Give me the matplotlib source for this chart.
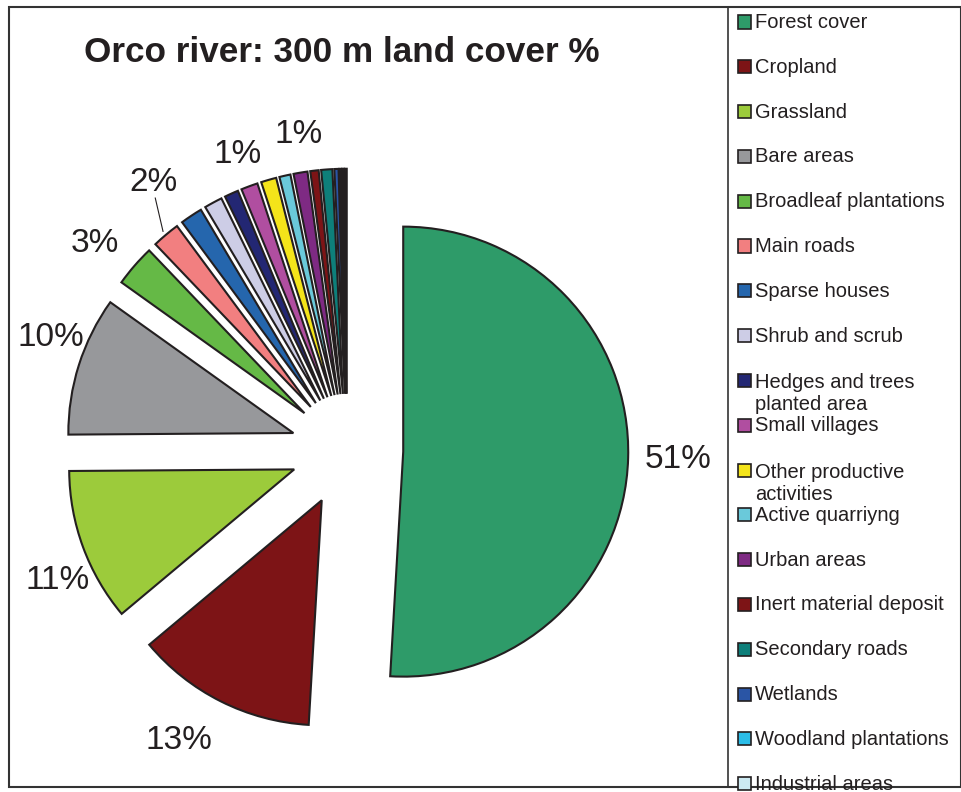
import numpy as np
import matplotlib.pyplot as plt
from matplotlib.patches import Rectangle

plt.rcParams['font.family'] = ['Liberation Sans', 'DejaVu Sans']

categories = [
    'Forest cover', 'Cropland', 'Grassland', 'Bare areas',
    'Broadleaf plantations', 'Main roads', 'Sparse houses', 'Shrub and scrub',
    'Hedges and trees\nplanted area', 'Small villages',
    'Other productive\nactivities', 'Active quarriyng', 'Urban areas',
    'Inert material deposit', 'Secondary roads', 'Wetlands',
    'Woodland plantations', 'Industrial areas', 'Other',
]
shares = [51, 13, 11, 10, 3, 2, 1.6, 1.3, 1.0, 1.2, 1.1, 0.8, 1.0,
          0.6, 0.8, 0.3, 0.15, 0.15, 0.15]
colors = [
    '#2e9b69', '#7d1416', '#9ccb3b', '#97989b', '#65b946', '#f27f80',
    '#2566ad', '#cdcde6', '#232773', '#b04ea0', '#f4e41a', '#6ac9da',
    '#7e2a83', '#7d1416', '#0e7f7a', '#2a55a5', '#2bbde8', '#cce9f1',
    '#c8d8b8',
]
# slices that carry a percentage label: (distance, angle shift in degrees)
label_pos = {0: (1.22, 0), 1: (1.24, -4), 2: (1.16, 5), 3: (1.16, -4),
             4: (1.2, 2), 5: (1.22, -5), 9: (1.15, 0), 12: (1.17, -1)}

W, H = 962, 792
cx, cy, R = 347, 450, 225  # pie centre and radius in pixels (from top)
ink = '#231f20'

fig = plt.figure(figsize=(W / 100, H / 100), dpi=100)
ax = fig.add_axes([0, 0, 1, 1])
wedges, _ = ax.pie(shares, colors=colors, startangle=90, counterclock=False,
                   explode=[0.25] * len(shares), radius=1,
                   wedgeprops=dict(edgecolor=ink, linewidth=1.5))
ax.set_xlim(-cx / R, (W - cx) / R)
ax.set_ylim(-(H - cy) / R, cy / R)
ax.axis('off')

for i, (d, shift) in label_pos.items():
    w = wedges[i]
    tm = np.deg2rad((w.theta1 + w.theta2) / 2)
    ta = tm + np.deg2rad(shift)
    x0, y0 = w.center
    tx, ty = x0 + d * np.cos(ta), y0 + d * np.sin(ta)
    ax.text(tx, ty, f'{round(shares[i])}%', ha='center', va='center',
            fontsize=24, color=ink)
    if i == 5:
        # leader line from the label down to the slice
        ax.plot([tx + 0.01, x0 + 1.02 * np.cos(tm)],
                [ty - 0.07, y0 + 1.02 * np.sin(tm)], color=ink, lw=0.8)

fig.text(342 / W, 1 - 52 / H, 'Orco river: 300 m land cover %',
         ha='center', va='center', fontsize=25.3, fontweight='bold',
         color=ink)

# outer frame and legend box
fig.add_artist(Rectangle((9 / W, 1 - 787 / H), 952 / W, 780 / H,
                         transform=fig.transFigure, fill=False,
                         edgecolor='#333333', lw=1.5))
fig.add_artist(plt.Line2D([728 / W, 728 / W], [1 - 787 / H, 1 - 7 / H],
                          transform=fig.transFigure, color='#333333', lw=1.2))

step = 44.8
for k, (name, col) in enumerate(zip(categories, colors)):
    yc = 22 + k * step
    if yc > H:
        break
    fig.add_artist(Rectangle((738 / W, 1 - (yc + 6.5) / H), 13 / W, 13 / H,
                             transform=fig.transFigure, facecolor=col,
                             edgecolor=ink, lw=1.2))
    # baseline alignment uses the last line, so push wrapped labels down
    extra = 24 * name.count('\n')
    fig.text(755 / W, 1 - (yc + 6 + extra) / H, name, ha='left',
             va='baseline', fontsize=14.5, color=ink, linespacing=1.2)

fig.savefig('out.png', dpi=100)
